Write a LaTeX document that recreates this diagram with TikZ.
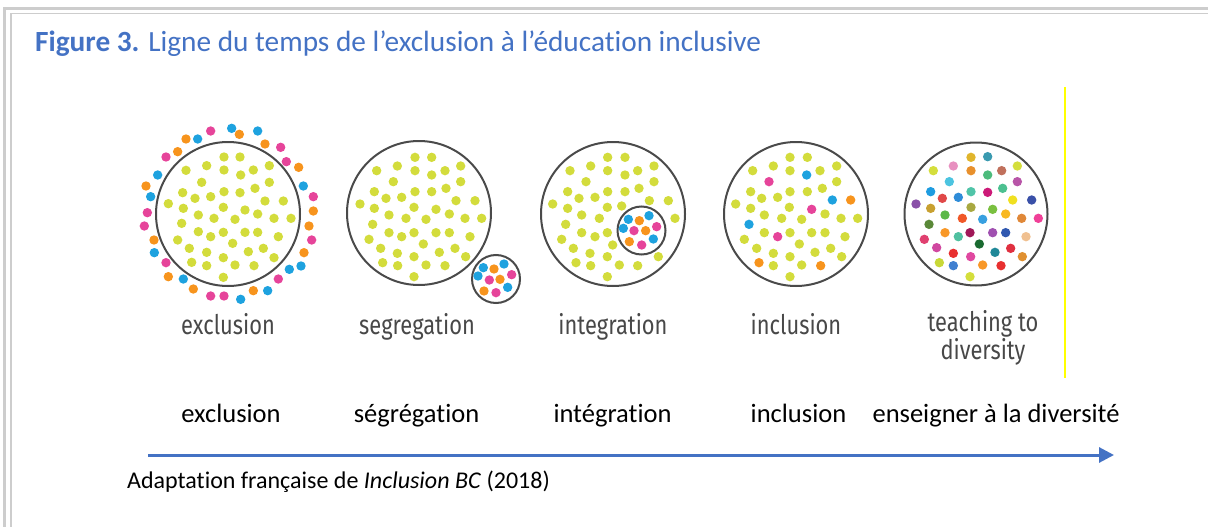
\documentclass[tikz,border=0pt]{standalone}
\usepackage{fontspec}
\setmainfont[Ligatures={NoCommon}]{Carlito}
\newfontfamily\labfont[FakeStretch=0.81]{Fira Sans}
\usetikzlibrary{arrows.meta}
\definecolor{titleblue}{HTML}{4472C4}
\definecolor{arrowblue}{HTML}{4472C4}
\definecolor{framegrey}{HTML}{CDCDCD}
\definecolor{ringgrey}{HTML}{4A4A4A}
\definecolor{labgrey}{HTML}{484848}
\definecolor{dyel}{HTML}{D3DC3C}
\definecolor{dpink}{HTML}{E6449A}
\definecolor{dblue}{HTML}{1EA2DF}
\definecolor{dorange}{HTML}{F7941D}
\definecolor{vline}{HTML}{FFFF00}
\newcommand\dotset[4]{%
  \foreach \a/\b in {#4} \fill[#1] (#2+\a/3, #3+\b/3) circle[radius=4.7pt];}
\newcommand\multidots[3]{%
  \foreach \a/\b/\c in {#3} {\definecolor{tmpc}{HTML}{\c}\fill[tmpc] (#1+\a/3, #2+\b/3) circle[radius=4.7pt];}}
\begin{document}
\begin{tikzpicture}[x=1pt,y=-1pt,
  ring/.style={circle, draw=ringgrey, line width=2pt, inner sep=0pt},
  toplab/.style={font=\labfont\fontsize{27}{24}\selectfont, text=labgrey, inner sep=0pt, anchor=base},
  botlab/.style={font=\fontsize{26.5}{30}\selectfont, text=black, inner sep=0pt, anchor=base},
  frameline/.style={draw=framegrey}]
\useasboundingbox (0,0) rectangle (1208,527);
% frame
\coordinate (fo1) at (1208,8.5);
\coordinate (fo2) at (4.5,8.5);
\coordinate (fo3) at (4.5,527);
\coordinate (fi1) at (1208,13.5);
\coordinate (fi2) at (11,13.5);
\coordinate (fi3) at (11,527);
\draw[frameline, line width=3pt] (fo1) -- (fo2) -- (fo3);
\draw[frameline, line width=1.6pt] (fi1) -- (fi2) -- (fi3);
% title
\node[anchor=base west, inner sep=0pt, text=titleblue, font=\fontsize{29.3}{32}\selectfont] (title) at (35,52)
  {\textbf{Figure 3.} Ligne du temps de l’exclusion à l’éducation inclusive};
% circles
\node[ring, minimum size=144pt] (c1) at (228,214) {};
\node[ring, minimum size=144pt] (c2) at (419,213) {};
\node[ring, minimum size=48pt] (c2s) at (496,279) {};
\node[ring, minimum size=144pt] (c3) at (613,214) {};
\node[ring, minimum size=48pt] (c3s) at (641.5,230.5) {};
\node[ring, minimum size=144pt] (c4) at (796,214) {};
\node[ring, minimum size=143pt] (c5) at (976,214) {};
% exclusion dots
\dotset{dpink}{130}{115}{242/48, 452/97, 108/126, 469/140, 550/245, 52/293, 43/333, 545/375, 108/443, 445/492, 242/543, 282/543}
\dotset{dblue}{130}{115}{305/40, 383/48, 203/72, 83/180, 520/213, 62/245, 73/413, 513/453, 478/463, 160/492, 413/527, 332/553}
\dotset{dorange}{130}{115}{328/58, 168/72, 405/87, 143/110, 506/157, 48/213, 550/288, 537/333, 72/375, 522/413, 115/485, 190/522, 370/527}
\dotset{dyel}{130}{115}{282/126, 330/126, 230/152, 282/165, 168/166, 370/165, 418/152, 332/180, 215/202, 418/202, 158/233, 195/250, 242/245, 282/230, 330/233, 375/220, 405/258, 460/258, 115/266, 160/280, 280/277, 345/285, 383/297, 205/300, 252/310, 315/313, 432/310, 483/310, 155/325, 205/350, 242/365, 280/352, 345/352, 383/352, 445/365, 143/375, 308/385, 178/400, 230/412, 355/410, 400/400, 432/428, 185/442, 280/428, 315/450, 372/452, 230/452, 280/487}
% segregation dots
\dotset{dyel}{340}{110}{225/142, 275/142, 110/182, 172/168, 225/182, 275/195, 315/182, 362/168, 160/215, 362/215, 103/245, 138/265, 185/262, 225/245, 275/245, 318/235, 348/272, 405/272, 60/282, 103/295, 222/292, 288/298, 147/315, 198/325, 258/328, 328/312, 375/325, 425/325, 98/343, 147/368, 185/380, 222/368, 288/368, 328/368, 390/380, 87/388, 250/402, 122/415, 172/430, 222/440, 298/427, 345/415, 377/440, 128/458, 173/467, 258/465, 315/467, 222/500}
\dotset{dblue}{340}{110}{430/473, 492/462, 414/498, 503/532}
\dotset{dorange}{340}{110}{462/477, 480/508, 432/543}
\dotset{dpink}{340}{110}{448/510, 515/494, 468/548}
% integration dots
\dotset{dyel}{530}{110}{233/142, 285/142, 120/182, 182/168, 233/182, 285/195, 323/182, 372/168, 168/215, 372/215, 113/245, 147/265, 195/262, 233/245, 285/245, 327/235, 358/272, 415/272, 68/282, 113/295, 232/292, 275/288, 155/315, 208/325, 435/325, 107/343, 155/368, 195/380, 232/368, 95/388, 248/405, 130/415, 180/430, 232/440, 385/440, 138/458, 182/467, 268/465, 323/467, 232/500}
\dotset{dblue}{530}{110}{295/328, 357/317, 280/355, 370/387}
\dotset{dorange}{530}{110}{328/332, 347/362, 298/395}
\dotset{dpink}{530}{110}{312/362, 380/350, 335/405}
% inclusion dots
\dotset{dyel}{710}{110}{240/142, 292/142, 128/182, 190/168, 240/182, 330/182, 380/168, 380/215, 122/245, 155/265, 203/262, 240/245, 292/245, 337/235, 77/282, 122/295, 238/292, 163/315, 215/325, 275/328, 345/312, 393/325, 443/325, 163/368, 240/368, 305/368, 345/368, 405/380, 103/388, 268/402, 140/415, 190/430, 240/440, 315/427, 362/415, 395/440, 190/467, 275/465, 240/500}
\dotset{dblue}{710}{110}{290/195, 367/270, 117/343}
\dotset{dpink}{710}{110}{177/215, 305/298, 203/380}
\dotset{dorange}{710}{110}{422/270, 147/458, 332/467}
% teaching to diversity dots
\multidots{890}{110}{243/142/E0B52C, 293/140/3A9AB0, 130/182/D4DE3C, 190/168/E890C0, 243/182/E8902C, 335/182/C0705C, 382/168/D4DE3C, 293/195/4CBB7C, 178/215/4CC4E0, 382/215/B855A8, 122/245/1E9CE0, 157/265/E04848, 205/262/2E8CD8, 243/245/50C4A8, 293/247/CC1A78, 338/235/4CC090, 368/270/F0E020, 425/270/3A50A8, 78/282/8A50A8, 122/295/C8A030, 243/292/A8A840, 308/298/7AC040, 165/315/5CB848, 217/325/F05828, 278/328/38A0E0, 347/312/F8B820, 395/325/E08838, 445/325/F04098, 117/343/5A8838, 165/368/F89828, 205/380/50C0A0, 240/368/A01858, 308/368/A050B0, 347/368/3058B0, 408/380/F0C090, 103/388/E04070, 268/402/1A6A30, 140/413/D048A0, 190/430/E83030, 242/440/E048A0, 315/427/208898, 362/415/E03040, 397/440/E09030, 148/458/C8D838, 190/467/4080D0, 278/465/F89828, 333/467/E83030, 240/500/D4DE3C}
% yellow vertical line
\coordinate (v1) at (1064.5,87);
\coordinate (v2) at (1064.5,378);
\draw[vline, line width=2pt] (v1) -- (v2);
% top labels
\node[toplab] (t1) at (228,334) {exclusion};
\node[toplab] (t2) at (417,334) {segregation};
\node[toplab] (t3) at (613,334) {integration};
\node[toplab] (t4) at (796,334) {inclusion};
\node[toplab, align=center] (t5) at (983,359) {teaching to\\diversity};
% bottom labels
\node[botlab] (b1) at (231,422) {exclusion};
\node[botlab] (b2) at (416.5,422) {ségrégation};
\node[botlab] (b3) at (612.5,422) {intégration};
\node[botlab] (b4) at (798.5,422) {inclusion};
\node[botlab] (b5) at (996,422) {enseigner à la diversité};
% arrow
\coordinate (as) at (148,455);
\coordinate (ae) at (1114,455);
\draw[arrowblue, line width=3pt, -{Triangle[length=15pt,width=15pt]}] (as) -- (ae);
% caption
\node[anchor=base west, inner sep=0pt, font=\fontsize{24}{28}\selectfont] (src) at (127,488)
  {Adaptation française de \textit{Inclusion BC} (2018)};
\end{tikzpicture}
\end{document}
